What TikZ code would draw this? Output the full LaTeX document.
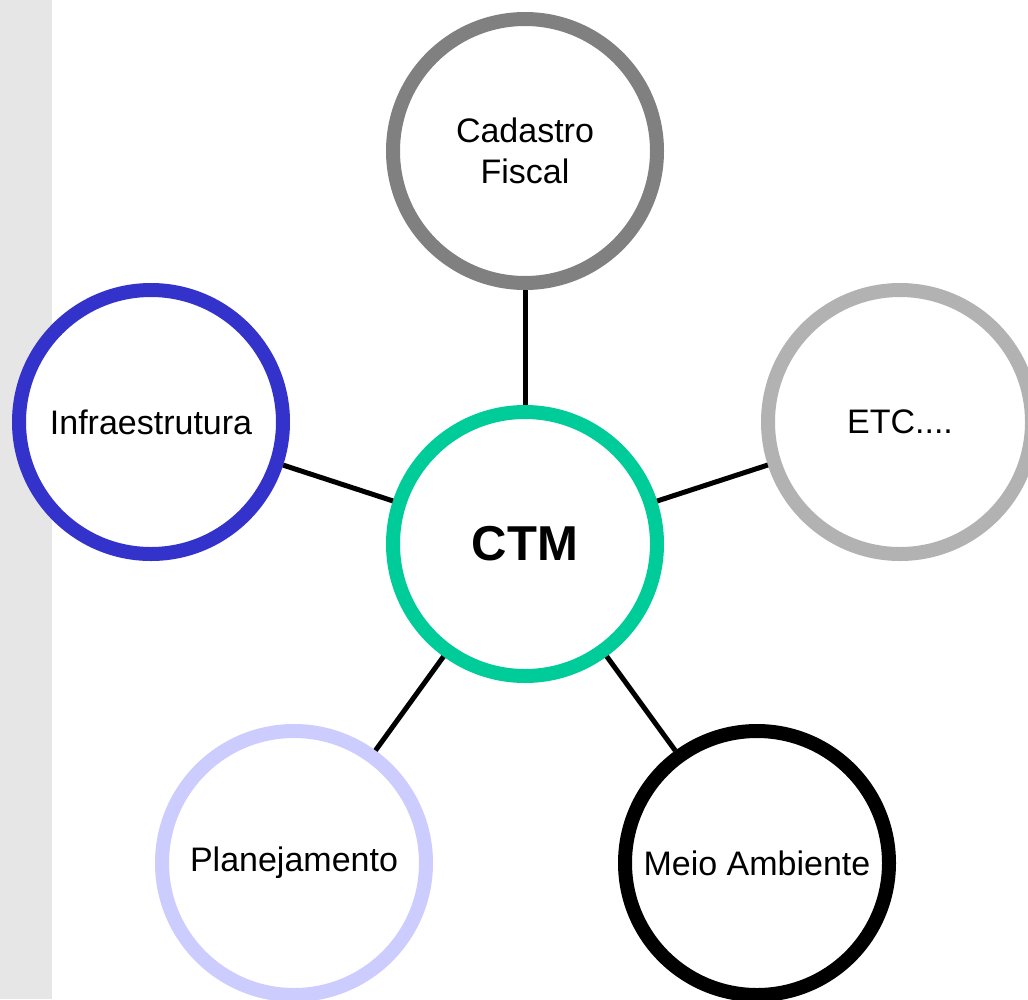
\documentclass[tikz,border=0pt]{standalone}
\usepackage{fontspec}
\setmainfont{Liberation Sans}
\usepackage{xcolor}

\definecolor{cadgray}{HTML}{808080}
\definecolor{infblue}{HTML}{3333CC}
\definecolor{etcgray}{HTML}{B2B2B2}
\definecolor{ctmgreen}{HTML}{00CC99}
\definecolor{plalilac}{HTML}{CCCCFF}
\definecolor{stripgray}{HTML}{E6E6E6}

\tikzset{
  topic/.style={circle,draw,fill=white,line width=14pt,minimum size=264pt,inner sep=0pt,
    align=center,font=\fontsize{34}{41}\selectfont},
  link/.style={line width=5pt,black}
}

\begin{document}
\begin{tikzpicture}[x=1pt,y=-1pt]
            \clip (0,0) rectangle (1028,999);
            \fill[white] (0,0) rectangle (1028,999);
            \fill[stripgray] (0,0) rectangle (52,999);

            \node (cad) at (525,151) [topic,draw=cadgray] {Cadastro\\ Fiscal};
            \node (inf) at (151,422) [topic,draw=infblue] {Infraestrutura};
            \node (etc) at (900,422) [topic,draw=etcgray] {ETC....};
            \node (ctm) at (525,544) [topic,draw=ctmgreen,font=\fontsize{49}{58}\selectfont\bfseries] {CTM};
            \node (pla) at (294,863) [topic,draw=plalilac] {Planejamento};
            \node (mei) at (757,863) [topic,draw=black] {Meio Ambiente};

            \draw[link] (ctm) -- (cad);
            \draw[link] (ctm) -- (inf);
            \draw[link] (ctm) -- (etc);
            \draw[link] (ctm) -- (pla);
            \draw[link] (ctm) -- (mei);

        \end{tikzpicture}
\end{document}
